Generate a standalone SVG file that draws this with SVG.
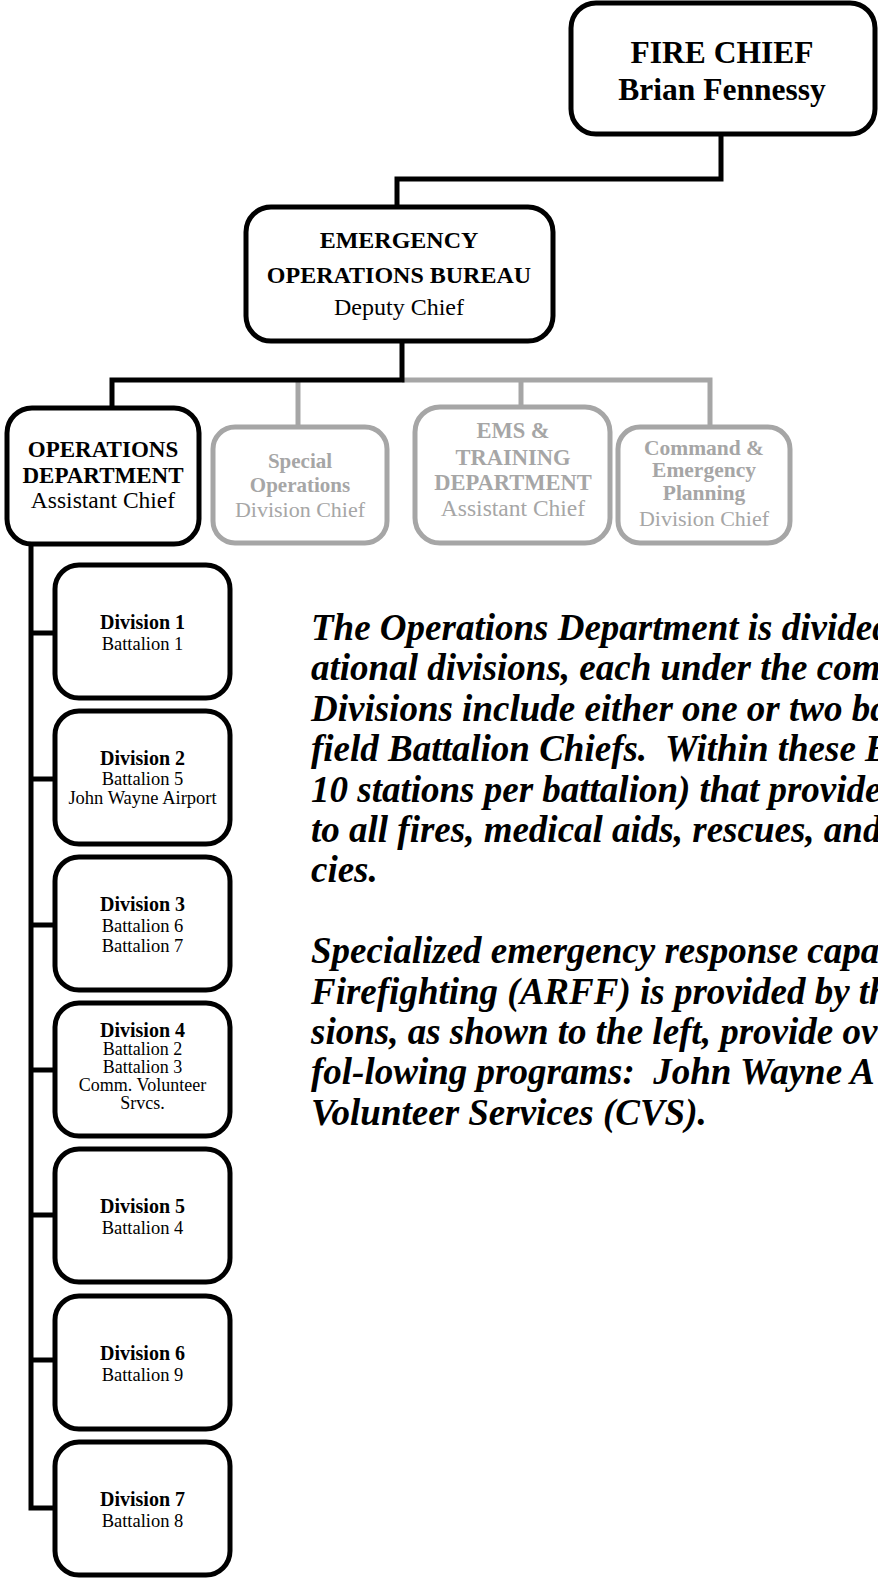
<svg xmlns="http://www.w3.org/2000/svg" width="878" height="1578" viewBox="0 0 878 1578">
<style>
  .box{fill:#fff;stroke:#000;stroke-width:5}
  .gbox{fill:#fff;stroke:#a6a6a6;stroke-width:5}
  .con{fill:none;stroke:#000;stroke-width:5;stroke-linejoin:miter}
  .gcon{fill:none;stroke:#a6a6a6;stroke-width:5;stroke-linejoin:miter}
  text{font-family:"Liberation Serif","Times New Roman",serif;text-anchor:middle;fill:#000}
  .b{font-weight:bold}
  .g{fill:#a6a6a6}
  .para{font-weight:bold;font-style:italic;font-size:37px;text-anchor:start;white-space:pre}
</style>
<rect width="878" height="1578" fill="#fff"/>
<g id="connectors">
  <path class="con" d="M721 134 V179 H397 V207"/>
  <path class="gcon" d="M402 380 H710 V427"/>
  <path class="gcon" d="M298 380 V427"/>
  <path class="gcon" d="M521 380 V407"/>
  <path class="con" d="M402 341 V380 H112 V408"/>
  <path class="con" d="M31 544 V1508 H55"/>
  <path class="con" d="M31 633 H55 M31 779 H55 M31 925 H55 M31 1070 H55 M31 1215 H55 M31 1360 H55"/>
</g>
<g id="fire-chief">
  <rect class="box" x="571" y="3" width="304" height="131" rx="25"/>
  <text class="b" x="722" y="63" font-size="31.5">FIRE CHIEF</text>
  <text class="b" x="722" y="100" font-size="31.5">Brian Fennessy</text>
</g>
<g id="eob">
  <rect class="box" x="246" y="207" width="307" height="134" rx="25"/>
  <text class="b" x="399" y="248" font-size="24">EMERGENCY</text>
  <text class="b" x="399" y="283" font-size="24">OPERATIONS BUREAU</text>
  <text x="399" y="315" font-size="24">Deputy Chief</text>
</g>
<g id="ops">
  <rect class="box" x="7" y="408" width="192" height="136" rx="25"/>
  <text class="b" x="103" y="457" font-size="23">OPERATIONS</text>
  <text class="b" x="103" y="483" font-size="23">DEPARTMENT</text>
  <text x="103" y="508" font-size="23.5">Assistant Chief</text>
</g>
<g id="special-ops">
  <rect class="gbox" x="213" y="427" width="174" height="116" rx="22"/>
  <text class="b g" x="300" y="468" font-size="21">Special</text>
  <text class="b g" x="300" y="492" font-size="21">Operations</text>
  <text class="g" x="300" y="517" font-size="22">Division Chief</text>
</g>
<g id="ems">
  <rect class="gbox" x="415" y="407" width="195" height="136" rx="25"/>
  <text class="b g" x="513" y="438" font-size="22.5">EMS &amp;</text>
  <text class="b g" x="513" y="465" font-size="22.5">TRAINING</text>
  <text class="b g" x="513" y="490" font-size="22.5">DEPARTMENT</text>
  <text class="g" x="513" y="516" font-size="23.5">Assistant Chief</text>
</g>
<g id="command">
  <rect class="gbox" x="618" y="427" width="172" height="116" rx="22"/>
  <text class="b g" x="704" y="455" font-size="21.5">Command &amp;</text>
  <text class="b g" x="704" y="477" font-size="21.5">Emergency</text>
  <text class="b g" x="704" y="500" font-size="21.5">Planning</text>
  <text class="g" x="704" y="526" font-size="22">Division Chief</text>
</g>
<g id="div1">
  <rect class="box" x="55" y="565" width="175" height="133" rx="24"/>
  <text class="b" x="142.5" y="629" font-size="20">Division 1</text>
  <text x="142.5" y="650" font-size="18.5">Battalion 1</text>
</g>
<g id="div2">
  <rect class="box" x="55" y="711" width="175" height="133" rx="24"/>
  <text class="b" x="142.5" y="765" font-size="20">Division 2</text>
  <text x="142.5" y="785" font-size="18.5">Battalion 5</text>
  <text x="142.5" y="804" font-size="18.5">John Wayne Airport</text>
</g>
<g id="div3">
  <rect class="box" x="55" y="857" width="175" height="133" rx="24"/>
  <text class="b" x="142.5" y="911" font-size="20">Division 3</text>
  <text x="142.5" y="932" font-size="18.5">Battalion 6</text>
  <text x="142.5" y="952" font-size="18.5">Battalion 7</text>
</g>
<g id="div4">
  <rect class="box" x="55" y="1003" width="175" height="133" rx="24"/>
  <text class="b" x="142.5" y="1037" font-size="20">Division 4</text>
  <text x="142.5" y="1055" font-size="18">Battalion 2</text>
  <text x="142.5" y="1073" font-size="18">Battalion 3</text>
  <text x="142.5" y="1091" font-size="18">Comm. Volunteer</text>
  <text x="142.5" y="1109" font-size="18">Srvcs.</text>
</g>
<g id="div5">
  <rect class="box" x="55" y="1149" width="175" height="133" rx="24"/>
  <text class="b" x="142.5" y="1213" font-size="20">Division 5</text>
  <text x="142.5" y="1234" font-size="18.5">Battalion 4</text>
</g>
<g id="div6">
  <rect class="box" x="55" y="1296" width="175" height="133" rx="24"/>
  <text class="b" x="142.5" y="1360" font-size="20">Division 6</text>
  <text x="142.5" y="1381" font-size="18.5">Battalion 9</text>
</g>
<g id="div7">
  <rect class="box" x="55" y="1442" width="175" height="133" rx="24"/>
  <text class="b" x="142.5" y="1506" font-size="20">Division 7</text>
  <text x="142.5" y="1527" font-size="18.5">Battalion 8</text>
</g>
<g id="description">
  <text class="para" x="311" y="640">The Operations Department is divided</text>
  <text class="para" x="311" y="680.4">ational divisions, each under the com</text>
  <text class="para" x="311" y="720.8">Divisions include either one or two ba</text>
  <text class="para" x="311" y="761.2">field Battalion Chiefs.  Within these B</text>
  <text class="para" x="311" y="801.6">10 stations per battalion) that provide</text>
  <text class="para" x="311" y="842">to all fires, medical aids, rescues, and</text>
  <text class="para" x="311" y="882.4">cies.</text>
  <text class="para" x="311" y="963.2">Specialized emergency response capa</text>
  <text class="para" x="311" y="1003.6">Firefighting (ARFF) is provided by th</text>
  <text class="para" x="311" y="1044">sions, as shown to the left, provide ov</text>
  <text class="para" x="311" y="1084.4">fol-lowing programs:  John Wayne A</text>
  <text class="para" x="311" y="1124.8">Volunteer Services (CVS).</text>
</g>
</svg>
